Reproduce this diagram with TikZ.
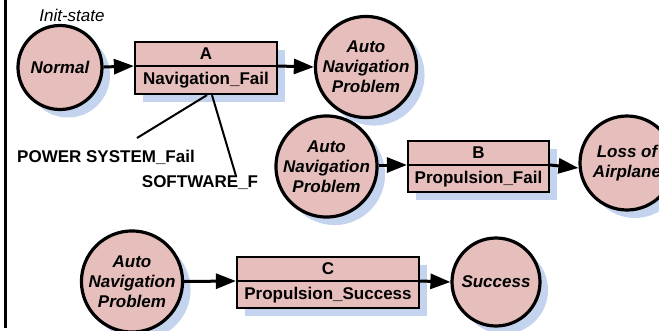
\documentclass[tikz,border=0pt]{standalone}
\usepackage{fontspec}
\setmainfont{Liberation Sans}
\usetikzlibrary{arrows.meta,shadows}
\definecolor{statefill}{RGB}{230,190,188}
\definecolor{shadowblue}{RGB}{196,211,238}
\tikzset{
  shade8/.style={drop shadow={shadow xshift=8pt,shadow yshift=-8pt,fill=shadowblue,opacity=1}},
  state/.style={circle,draw=black,line width=3.2pt,fill=statefill,shade8,
    inner sep=0pt,align=center,font=\fontsize{17}{20}\selectfont\bfseries\itshape},
  event/.style={rectangle,draw=black,line width=2.2pt,fill=statefill,shade8,inner sep=0pt},
  boxtext/.style={font=\fontsize{17}{20}\selectfont\bfseries,inner sep=0pt},
  divider/.style={line width=2.2pt},
  flow/.style={line width=3pt,-{Triangle[length=20pt,width=15pt]}},
  cause/.style={line width=2pt},
  plain/.style={font=\fontsize{17}{20}\selectfont\bfseries,inner sep=0pt},
}
\begin{document}
\begin{tikzpicture}[x=1pt,y=-1pt]
\useasboundingbox (0,0) rectangle (659,330);
% left frame line
\draw[line width=3pt] (5,0) -- (5,328);

% ---- first chain: Normal -> A -> Auto Navigation Problem
\node[font=\fontsize{17}{20}\selectfont\itshape] (init) at (72,15) {Init-state};
\node[state,minimum size=84pt] (normal) at (60,67.5) {Normal};
\node[event,minimum width=142pt,minimum height=52pt] (A) at (206,68) {};
\draw[divider] (A.west |- 0,66) coordinate (Adl) -- (A.east |- 0,66) coordinate (Adr);
\node[boxtext] (Atop) at (206,54) {A};
\node[boxtext] (Abot) at (206,80.5) {Navigation\_Fail};
\node[state,minimum size=96pt] (nav1) at (366,67) {Auto\\Navigation\\Problem};
\draw[flow] (normal.east |- 0,67) -- (Adl);
\draw[flow] (Adr) -- (nav1.west);

% causes of A
\coordinate (pw) at (137,138);
\coordinate (sw) at (236,176);
\draw[cause] ([xshift=1pt]A.south) -- (pw);
\draw[cause] ([xshift=6pt]A.south) -- (sw);
\node[plain] (pwl) at (106,157) {POWER SYSTEM\_Fail};
\node[plain] (swl) at (200,183) {SOFTWARE\_F};

% ---- second chain: Auto Navigation Problem -> B -> Loss of Airplane
\node[state,minimum size=94pt] (nav2) at (326.5,166.5) {Auto\\Navigation\\Problem};
\node[event,minimum width=141pt,minimum height=51pt] (B) at (478.5,166.5) {};
\draw[divider] (B.west |- 0,165) coordinate (Bdl) -- (B.east |- 0,165) coordinate (Bdr);
\node[boxtext] (Btop) at (478.5,153) {B};
\node[boxtext] (Bbot) at (478.5,179) {Propulsion\_Fail};
\node[state,minimum size=94pt] (loss) at (627,163) {Loss of\\Airplane};
\draw[flow] (nav2.east |- 0,165) -- (Bdl);
\draw[flow] (Bdr) -- (loss.west |- 0,168);

% ---- third chain: Auto Navigation Problem -> C -> Success
\node[state,minimum size=96pt] (nav3) at (132,281.5) {Auto\\Navigation\\Problem};
\node[event,minimum width=182pt,minimum height=51pt] (C) at (328,282.5) {};
\draw[divider] (C.west |- 0,281) coordinate (Cdl) -- (C.east |- 0,281) coordinate (Cdr);
\node[boxtext] (Ctop) at (328,269) {C};
\node[boxtext] (Cbot) at (328,295) {Propulsion\_Success};
\node[state,minimum size=88pt] (succ) at (496,282) {Success};
\draw[flow] (nav3.east |- 0,281.5) -- (Cdl);
\draw[flow] (Cdr) -- (succ.west);
\end{tikzpicture}
\end{document}
